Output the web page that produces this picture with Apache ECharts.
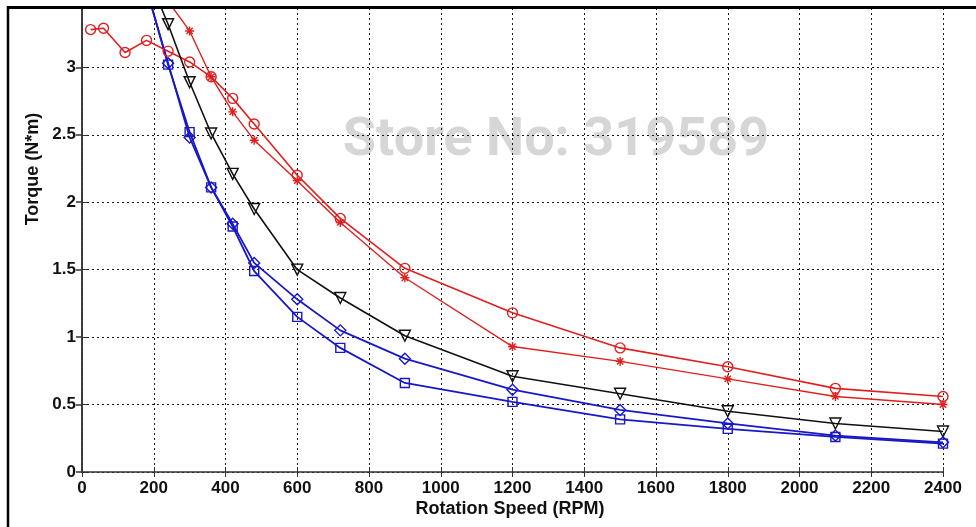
<!DOCTYPE html>
<html>
<head>
<meta charset="utf-8">
<title>Torque vs Rotation Speed</title>
<script src="https://cdn.jsdelivr.net/npm/echarts@6/dist/echarts.min.js"></script>
<style>
  html, body { margin: 0; padding: 0; background: #fff; }
  #chart { width: 976px; height: 527px; }
</style>
</head>
<body>
<div id="chart"></div>
<script>
// Torque curves (N*m) against rotation speed (RPM)
const rpmCircle   = [24, 60, 120, 180, 240, 300, 360, 420, 480, 600, 720, 900, 1200, 1500, 1800, 2100, 2400];
const torqueCircle = [3.28, 3.29, 3.11, 3.20, 3.12, 3.04, 2.93, 2.77, 2.58, 2.20, 1.88, 1.51, 1.18, 0.92, 0.78, 0.62, 0.56];

const rpmStar     = [240, 300, 360, 420, 480, 600, 720, 900, 1200, 1500, 1800, 2100, 2400];
const torqueStar  = [3.49, 3.27, 2.93, 2.67, 2.46, 2.16, 1.85, 1.44, 0.93, 0.82, 0.69, 0.56, 0.50];

const rpmTri      = [180, 240, 300, 360, 420, 480, 600, 720, 900, 1200, 1500, 1800, 2100, 2400];
const torqueTri   = [3.70, 3.32, 2.89, 2.51, 2.21, 1.95, 1.50, 1.29, 1.01, 0.71, 0.58, 0.45, 0.36, 0.30];

const rpmBlue     = [180, 240, 300, 360, 420, 480, 600, 720, 900, 1200, 1500, 1800, 2100, 2400];
const torqueDiamond = [3.58, 3.03, 2.48, 2.11, 1.84, 1.55, 1.28, 1.05, 0.84, 0.61, 0.46, 0.36, 0.27, 0.22];
const torqueSquare  = [3.58, 3.02, 2.52, 2.11, 1.82, 1.49, 1.15, 0.92, 0.66, 0.52, 0.39, 0.32, 0.26, 0.21];

const xTicks = [0, 200, 400, 600, 800, 1000, 1200, 1400, 1600, 1800, 2000, 2200, 2400];
const yTicks = [0, 0.5, 1, 1.5, 2, 2.5, 3];

const RED = '#e0201e';
const BLUE = '#1818c8';
const BLACK = '#111111';
const FONT = 'Liberation Sans';

const pairs = (xs, ys) => xs.map((x, i) => [x, ys[i]]);

const starPath = 'path://M5,0L5,10M0,5L10,5M1.5,1.5L8.5,8.5M8.5,1.5L1.5,8.5';

function curve(xs, ys, color, symbol, size, width, extra) {
  return Object.assign({
    type: 'line',
    data: pairs(xs, ys),
    symbol: symbol,
    symbolSize: size,
    clip: true,
    lineStyle: { color: color, width: width },
    itemStyle: { color: 'rgba(0,0,0,0)', borderColor: color, borderWidth: 1.4 },
    emphasis: { disabled: true },
    z: 3
  }, extra || {});
}

const gridLine = { show: true, lineStyle: { color: '#1a1a1a', width: 1, type: [2, 3] } };
const axisLine = { show: true, lineStyle: { color: '#333', width: 1.5 } };
const tickLbl = (v, list) => list.indexOf(v) >= 0 ? String(v) : '';

const chart = echarts.init(document.getElementById('chart'));
chart.setOption({
  backgroundColor: '#fff',
  animation: false,
  grid: { left: 82, right: 33, top: 8, bottom: 55, containLabel: false },
  xAxis: [{
    type: 'value', min: 0, max: 2400, interval: 200, position: 'bottom',
    axisLine: axisLine,
    axisTick: { show: true, inside: true, length: 5, lineStyle: { color: '#333' } },
    axisLabel: { margin: 8, color: '#111', fontFamily: FONT, fontWeight: 'bold', fontSize: 17,
      formatter: v => tickLbl(v, xTicks) },
    splitLine: gridLine
  }, {
    type: 'value', min: 0, max: 2400, interval: 200, position: 'top',
    axisLine: { show: false },
    axisTick: { show: true, inside: true, length: 5, lineStyle: { color: '#333' } },
    axisLabel: { show: false },
    splitLine: { show: false }
  }],
  yAxis: [{
    type: 'value', min: 0, max: 3.44, interval: 0.5, position: 'left',
    axisLine: axisLine,
    axisTick: { show: true, inside: true, length: 5, lineStyle: { color: '#333' } },
    axisLabel: { margin: 6, color: '#111', fontFamily: FONT, fontWeight: 'bold', fontSize: 17,
      formatter: v => tickLbl(v, yTicks) },
    splitLine: gridLine
  }, {
    type: 'value', min: 0, max: 3.44, interval: 0.5, position: 'right',
    axisLine: axisLine,
    axisTick: { show: true, inside: true, length: 6, lineStyle: { color: '#333', width: 1.5 } },
    axisLabel: { show: false },
    splitLine: { show: false }
  }],
  series: [
    curve(rpmCircle, torqueCircle, RED, 'circle', 10, 1.6),
    curve(rpmStar, torqueStar, RED, starPath, 9, 1.4),
    curve(rpmTri, torqueTri, BLACK, 'triangle', 11, 1.6, { symbolRotate: 180 }),
    curve(rpmBlue, torqueDiamond, BLUE, 'diamond', 11, 1.8),
    curve(rpmBlue, torqueSquare, BLUE, 'rect', 9, 1.8)
  ],
  graphic: [
    {
      type: 'text', z: -1, x: 556, y: 141,
      style: {
        text: 'Store No: 319589', fill: '#d6d6d6',
        font: 'bold 54px Roboto', textAlign: 'center', textVerticalAlign: 'middle'
      }
    },
    {
      type: 'text', x: 510, y: 509,
      style: {
        text: 'Rotation Speed (RPM)', fill: '#111',
        font: 'bold 18px "Liberation Sans"', textAlign: 'center', textVerticalAlign: 'middle'
      }
    },
    {
      type: 'text', x: 33, y: 169, rotation: Math.PI / 2,
      style: {
        text: 'Torque (N*m)', fill: '#111',
        font: 'bold 18px "Liberation Sans"', textAlign: 'center', textVerticalAlign: 'middle'
      }
    },
    {
      type: 'line', z: 10,
      shape: { x1: 8, y1: 7.5, x2: 976, y2: 7.5 },
      style: { stroke: '#000', lineWidth: 3 }
    },
    {
      type: 'line', z: 10,
      shape: { x1: 8, y1: 6, x2: 8, y2: 527 },
      style: { stroke: '#000', lineWidth: 2.5 }
    }
  ]
});
</script>
</body>
</html>
